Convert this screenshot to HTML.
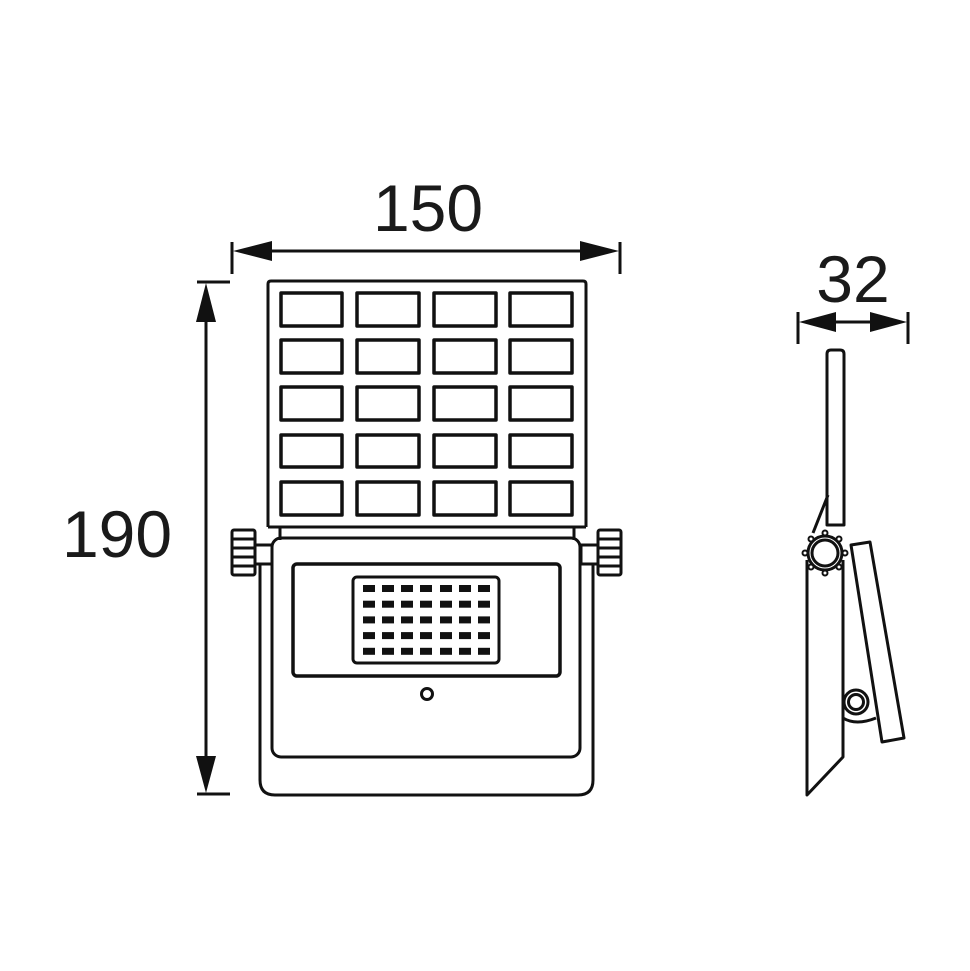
<!DOCTYPE html>
<html><head><meta charset="utf-8"><style>html,body{margin:0;padding:0;background:#fff}svg{display:block}</style></head>
<body>
<svg width="970" height="971" viewBox="0 0 970 971" xmlns="http://www.w3.org/2000/svg">
<rect width="970" height="971" fill="#fff"/>
<g font-family="Liberation Sans, sans-serif" font-size="66" fill="#1a1a1a">
<text x="428" y="231" text-anchor="middle">150</text>
<text x="117" y="557" text-anchor="middle">190</text>
<text x="853" y="302" text-anchor="middle">32</text>
</g>
<g stroke="#111" fill="none" stroke-width="3">
<!-- 150 dim -->
<line x1="232" y1="242" x2="232" y2="274"/><line x1="620" y1="242" x2="620" y2="274"/>
<line x1="240" y1="251" x2="612" y2="251"/>
<!-- 190 dim -->
<line x1="197" y1="282" x2="230" y2="282"/><line x1="197" y1="794" x2="230" y2="794"/>
<line x1="206" y1="290" x2="206" y2="786"/>
<!-- 32 dim -->
<line x1="798" y1="312" x2="798" y2="344"/><line x1="908" y1="312" x2="908" y2="344"/>
<line x1="805" y1="322" x2="901" y2="322"/>
</g>
<g fill="#111">
<polygon points="233,251 272,241 272,261"/>
<polygon points="619,251 580,241 580,261"/>
<polygon points="206,283 196,322 216,322"/>
<polygon points="206,793 196,756 216,756"/>
<polygon points="799,322 836,312 836,332"/>
<polygon points="907,322 870,312 870,332"/>
</g>
<g stroke="#111" fill="none" stroke-width="3" stroke-linejoin="round">
<!-- solar panel -->
<path d="M268,527 L268,284 Q268,281 271,281 L583,281 Q586,281 586,284 L586,527"/>
<g stroke-width="3.5">
<rect x="281" y="293" width="61" height="33"/><rect x="357" y="293" width="62" height="33"/><rect x="434" y="293" width="62" height="33"/><rect x="510" y="293" width="62" height="33"/>
<rect x="281" y="340" width="61" height="33"/><rect x="357" y="340" width="62" height="33"/><rect x="434" y="340" width="62" height="33"/><rect x="510" y="340" width="62" height="33"/>
<rect x="281" y="387" width="61" height="33"/><rect x="357" y="387" width="62" height="33"/><rect x="434" y="387" width="62" height="33"/><rect x="510" y="387" width="62" height="33"/>
<rect x="281" y="435" width="61" height="32"/><rect x="357" y="435" width="62" height="32"/><rect x="434" y="435" width="62" height="32"/><rect x="510" y="435" width="62" height="32"/>
<rect x="281" y="482" width="61" height="33"/><rect x="357" y="482" width="62" height="33"/><rect x="434" y="482" width="62" height="33"/><rect x="510" y="482" width="62" height="33"/>
</g>
<line x1="268" y1="527" x2="586" y2="527"/>
<line x1="280" y1="527" x2="280" y2="540"/><line x1="574" y1="527" x2="574" y2="540"/>
<!-- bracket outer -->
<path d="M260,563 L260,780 Q260,795 275,795 L578,795 Q593,795 593,780 L593,563"/>
<!-- body -->
<rect x="272" y="538" width="308" height="219" rx="9"/>
<!-- knobs -->
<rect x="255" y="545" width="17" height="19"/><rect x="581" y="545" width="17" height="19"/>
<rect x="232" y="530" width="23" height="45" rx="2"/>
<line x1="232" y1="539" x2="255" y2="539"/><line x1="232" y1="548" x2="255" y2="548"/><line x1="232" y1="557" x2="255" y2="557"/><line x1="232" y1="566" x2="255" y2="566"/>
<rect x="598" y="530" width="23" height="45" rx="2"/>
<line x1="598" y1="539" x2="621" y2="539"/><line x1="598" y1="548" x2="621" y2="548"/><line x1="598" y1="557" x2="621" y2="557"/><line x1="598" y1="566" x2="621" y2="566"/>
<!-- window -->
<rect x="293" y="564" width="267" height="112" rx="4" stroke-width="3.5"/>
<rect x="353" y="577" width="146" height="86" rx="4"/>
<circle cx="427" cy="694" r="5.5"/>
</g>
<g fill="#111">
<g id="r">
<rect x="363" y="585" width="12" height="7"/><rect x="382" y="585" width="12" height="7"/><rect x="401" y="585" width="12" height="7"/><rect x="420" y="585" width="12" height="7"/><rect x="440" y="585" width="12" height="7"/><rect x="459" y="585" width="12" height="7"/><rect x="478" y="585" width="12" height="7"/>
</g>
<use href="#r" y="15.7"/><use href="#r" y="31.4"/><use href="#r" y="47.1"/><use href="#r" y="62.8"/>
</g>
<!-- side view -->
<g stroke="#111" fill="none" stroke-width="3" stroke-linejoin="round">
<path d="M827,525 L827,354 Q827,350 831,350 L840,350 Q844,350 844,354 L844,525 Z"/>
<line x1="828" y1="495" x2="813" y2="533"/>
<path d="M807,560 L807,795 L843,757 L843,560"/>
<polygon points="851,545 870,542 904,738 882,742"/>
<path d="M843,718 Q856,726 876,718"/>
<circle cx="856" cy="702" r="12"/>
<circle cx="856" cy="702" r="7.5"/>
<circle cx="825" cy="553" r="17" fill="#fff"/>
<circle cx="825" cy="553" r="13"/>
</g>
<g fill="#fff" stroke="#111" stroke-width="2">
<circle cx="825" cy="533" r="2.5"/><circle cx="825" cy="573" r="2.5"/><circle cx="805" cy="553" r="2.5"/><circle cx="845" cy="553" r="2.5"/>
<circle cx="811" cy="539" r="2.5"/><circle cx="839" cy="539" r="2.5"/><circle cx="811" cy="567" r="2.5"/><circle cx="839" cy="567" r="2.5"/>
</g>
</svg>
</body></html>
